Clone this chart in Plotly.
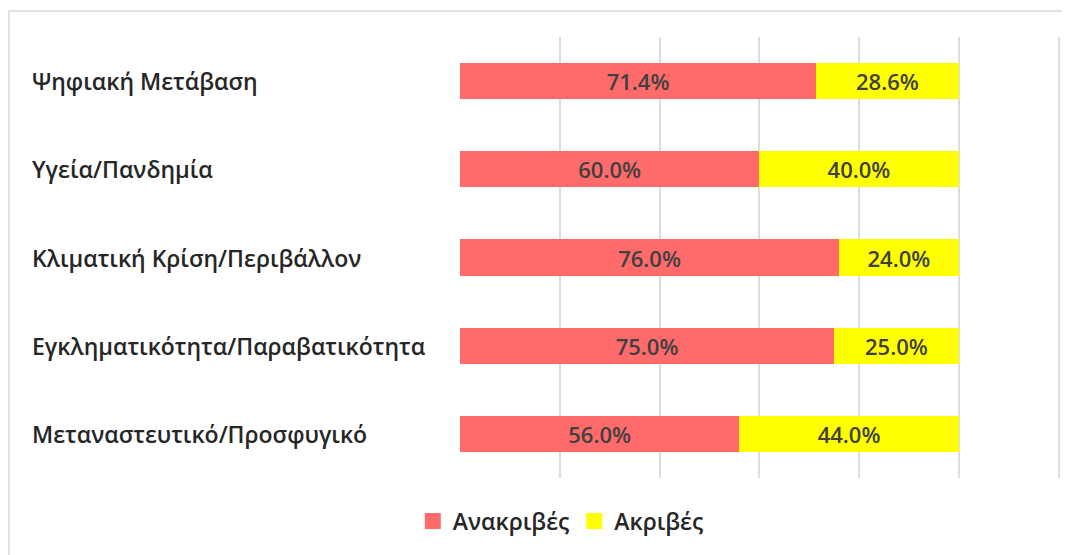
import plotly.graph_objects as go

categorias = ['Ψηφιακή Μετάβαση', 'Υγεία/Πανδημία', 'Κλιματική Κρίση/Περιβάλλον',
              'Εγκληματικότητα/Παραβατικότητα', 'Μεταναστευτικό/Προσφυγικό']
anakrives = [71.4, 60.0, 76.0, 75.0, 56.0]
akrives = [28.6, 40.0, 24.0, 25.0, 44.0]

FONT = 'Open Sans'
TEXT_DARK = '#262626'
RED = '#FF6B6B'
YELLOW = '#FFFF00'

fig = go.Figure()

fig.add_bar(
    y=categorias, x=anakrives, orientation='h', name='Ανακριβές',
    marker=dict(color=RED, line=dict(width=0)), showlegend=False,
    text=[f'{v:.1f}%' for v in anakrives], textposition='inside',
    insidetextanchor='middle',
    textfont=dict(family=FONT, size=22, color='#404040', weight=600),
)
fig.add_bar(
    y=categorias, x=akrives, orientation='h', name='Ακριβές',
    marker=dict(color=YELLOW, line=dict(width=0)), showlegend=False,
    text=[f'{v:.1f}%' for v in akrives], textposition='inside',
    insidetextanchor='middle',
    textfont=dict(family=FONT, size=22, color='#404040', weight=600),
)

# υπόμνημα με μεγαλύτερα τετράγωνα
for nm, col in [('Ανακριβές', RED), ('Ακριβές', YELLOW)]:
    fig.add_scatter(x=[None], y=[None], mode='markers', name=nm,
                    marker=dict(symbol='square', size=16, color=col))

# ετικέτες κατηγοριών στοιχισμένες αριστερά
for c in categorias:
    fig.add_annotation(
        x=-0.7167, xref='paper', y=c, yref='y', text=c, showarrow=False,
        xanchor='left', font=dict(family=FONT, size=23, color=TEXT_DARK, weight=600),
    )

# πλαίσιο γραφήματος
fig.add_shape(type='rect', xref='paper', yref='paper',
              x0=-0.7517, x1=1.05, y0=-0.2, y1=1.059,
              line=dict(color='#D9D9D9', width=1.5), layer='below')

fig.update_layout(
    width=1062, height=547,
    barmode='stack', bargap=0.59,
    plot_bgcolor='white', paper_bgcolor='white',
    margin=dict(l=452, r=10, t=29, b=77),
    font=dict(family=FONT, color=TEXT_DARK),
    xaxis=dict(range=[0, 120.3], tick0=0, dtick=20, showgrid=True, gridcolor='#DDDDDD',
               gridwidth=1.5, zeroline=False, showticklabels=False, fixedrange=True),
    yaxis=dict(autorange='reversed', showticklabels=False, showgrid=False,
               zeroline=False, fixedrange=True),
    legend=dict(orientation='h', x=0.168, xanchor='center', y=-0.0975, yanchor='middle',
                font=dict(family=FONT, size=23, color=TEXT_DARK, weight=600),
                itemsizing='trace', traceorder='normal'),
    showlegend=True,
)

fig.write_html('out.html')
